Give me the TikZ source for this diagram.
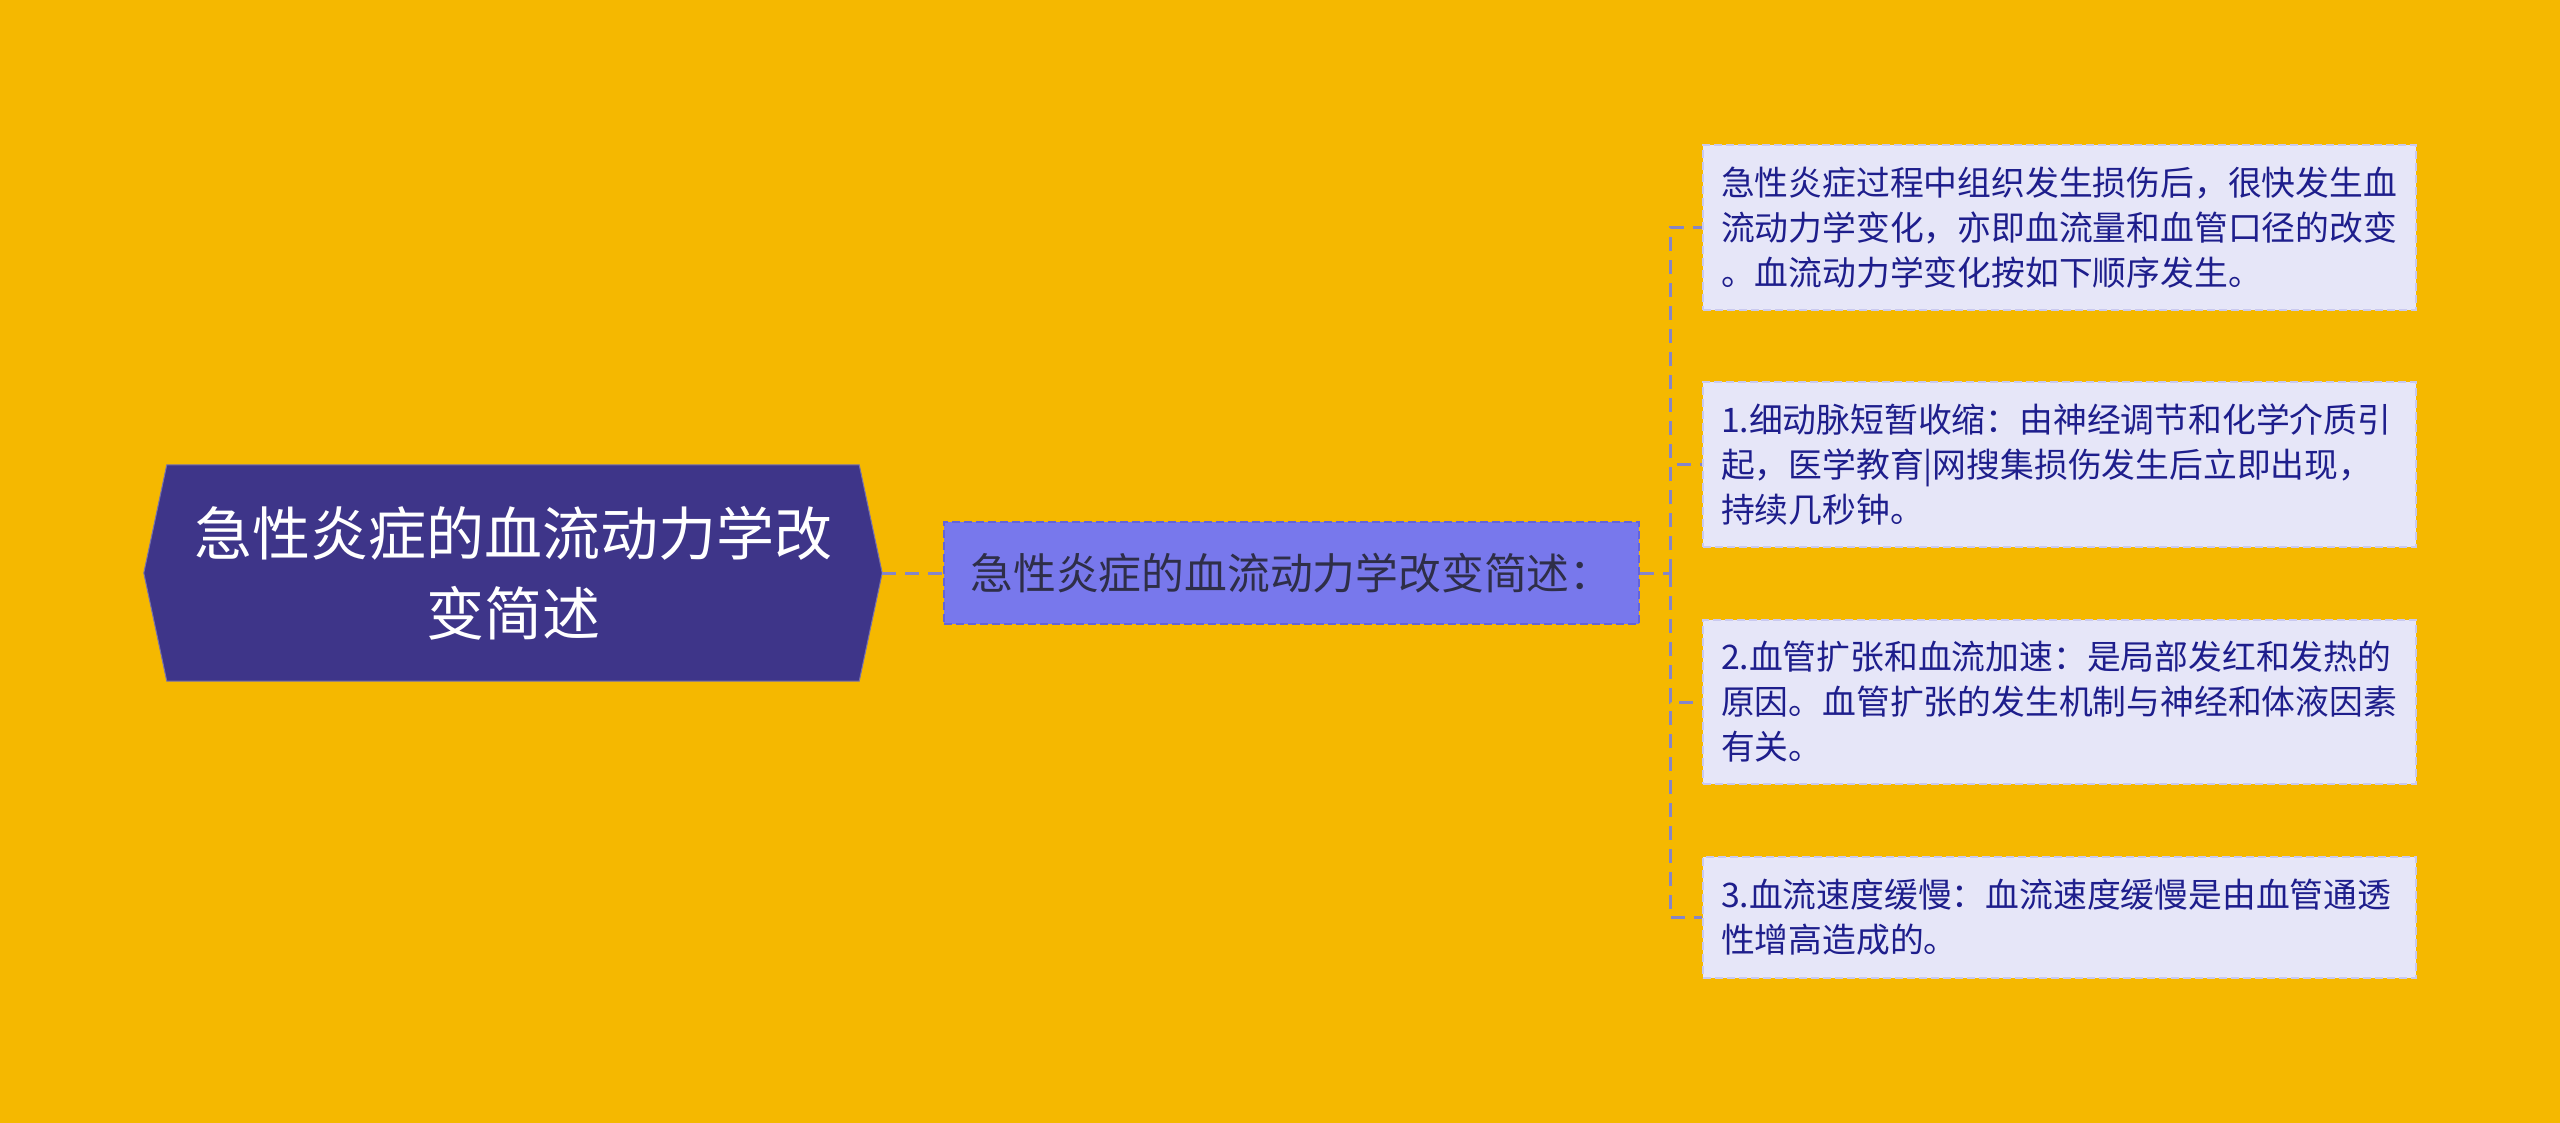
\documentclass[tikz,border=0pt]{standalone}
\usepackage{fontspec}
\setmainfont{Noto Sans CJK SC}
\definecolor{bg}{HTML}{F5B800}
\definecolor{rootfill}{HTML}{3E3589}
\definecolor{midfill}{HTML}{7878EC}
\definecolor{midborder}{HTML}{6464D8}
\definecolor{midtext}{HTML}{2E2E48}
\definecolor{leaffill}{HTML}{E6E6F8}
\definecolor{leafborder}{HTML}{C9C9F0}
\definecolor{leaftext}{HTML}{1E1E8C}
\definecolor{conncol}{HTML}{8585C8}
\begin{document}
\begin{tikzpicture}[x=1pt,y=-1pt,
  conn/.style={draw=conncol,line width=3pt,dash pattern=on 14pt off 9pt},
  rootbox/.style={rectangle,inner sep=0pt,minimum width=738pt,minimum height=216pt,
    text=white,align=center,font=\fontsize{58}{80}\selectfont},
  midbox/.style={rectangle,inner sep=0pt,minimum width=695pt,minimum height=102pt,
    fill=midfill,draw=midborder,line width=2pt,dash pattern=on 8pt off 4pt,
    text=midtext,font=\fontsize{42.8}{50}\selectfont},
  leafbox/.style={rectangle,inner xsep=18pt,inner ysep=0pt,text width=677pt,minimum width=713pt,
    fill=leaffill,draw=leafborder,line width=2pt,dash pattern=on 8pt off 4pt,
    text=leaftext,align=left,font=\fontsize{33.8}{45}\selectfont}]
\useasboundingbox (0,0) rectangle (2560,1123);
\fill[bg] (0,0) rectangle (2560,1123);

\node[rootbox] (root) at (513,573) {急性炎症的血流动力学改\\变简述};
\fill[rootfill,draw=rootfill!70!white,line width=1pt]
  (root.west) -- ([xshift=23pt]root.north west) -- ([xshift=-23pt]root.north east)
  -- (root.east) -- ([xshift=-23pt]root.south east) -- ([xshift=23pt]root.south west) -- cycle;
\node[rootbox] at (root.center) {急性炎症的血流动力学改\\变简述};

\node[midbox] (mid) at (1291.5,573) {急性炎症的血流动力学改变简述：};

\node[leafbox,minimum height=165pt] (b1) at (2059.5,227.5)
  {急性炎症过程中组织发生损伤后，很快发生血\\流动力学变化，亦即血流量和血管口径的改变\\。血流动力学变化按如下顺序发生。};
\node[leafbox,minimum height=165pt] (b2) at (2059.5,464.5)
  {1.细动脉短暂收缩：由神经调节和化学介质引\\起，医学教育|网搜集损伤发生后立即出现，\\持续几秒钟。};
\node[leafbox,minimum height=164pt] (b3) at (2059.5,702)
  {2.血管扩张和血流加速：是局部发红和发热的\\原因。血管扩张的发生机制与神经和体液因素\\有关。};
\node[leafbox,minimum height=121pt] (b4) at (2059.5,917.5)
  {3.血流速度缓慢：血流速度缓慢是由血管通透\\性增高造成的。};

\coordinate (j) at (1670,573);
\draw[conn] (root.east) -- (mid.west);
\draw[conn] (mid.east) -- (j);
\draw[conn] (j) |- (b1.west);
\draw[conn] (j) |- (b2.west);
\draw[conn] (j) |- (b3.west);
\draw[conn] (j) |- (b4.west);
\end{tikzpicture}
\end{document}
